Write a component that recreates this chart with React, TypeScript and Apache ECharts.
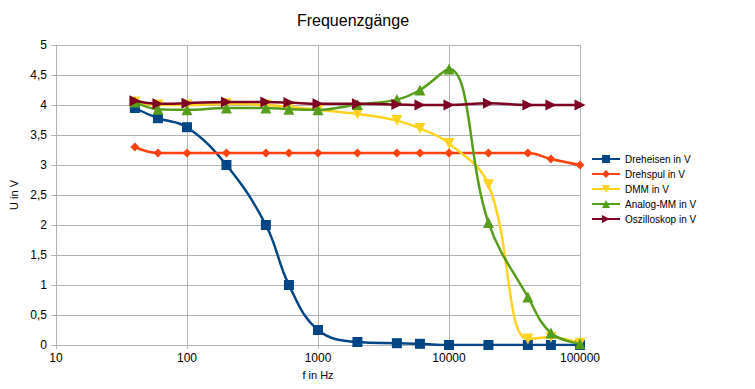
import React, { useEffect, useRef } from "react";
import * as echarts from "echarts";

const freqs = [40, 60, 100, 200, 400, 600, 1000, 2000, 4000, 6000, 10000, 20000, 40000, 60000, 100000];
const dreheisen = [3.95, 3.78, 3.63, 3.0, 2.0, 1.0, 0.25, 0.05, 0.03, 0.02, 0, 0, 0, 0, 0];
const drehspul = [3.3, 3.2, 3.2, 3.2, 3.2, 3.2, 3.2, 3.2, 3.2, 3.2, 3.2, 3.2, 3.2, 3.1, 3.0];
const dmm = [4.05, 4.0, 4.0, 4.02, 4.0, 3.97, 3.92, 3.85, 3.74, 3.61, 3.36, 2.67, 0.1, 0.13, 0.03];
const analogMM = [4.05, 3.93, 3.92, 3.95, 3.95, 3.93, 3.92, 4.01, 4.09, 4.25, 4.6, 2.04, 0.8, 0.2, 0.02];
const oszilloskop = [4.07, 4.02, 4.03, 4.05, 4.05, 4.04, 4.02, 4.02, 4.01, 4.0, 4.0, 4.03, 4.0, 4.0, 4.0];

const seriesNames = ["Dreheisen in V", "Drehspul in V", "DMM in V", "Analog-MM in V", "Oszilloskop in V"];
const seriesData = [dreheisen, drehspul, dmm, analogMM, oszilloskop];
const colors = ["#004586", "#ff420e", "#ffd320", "#579d1c", "#7e0021"];
const symbols = ["rect", "diamond", "triangle", "triangle", "triangle"];
const symbolRotate = [0, 0, 180, 0, -90];
const symbolSizes = [10, 9, 11, 11, 11];
const xTicks = [10, 100, 1000, 10000, 100000];

export default function App() {
  const ref = useRef<HTMLDivElement>(null);
  useEffect(() => {
    if (!ref.current) return;
    document.body.style.margin = "0";
    const chart = echarts.init(ref.current, null, { renderer: "svg" });
    const font = "Liberation Sans, Arial, sans-serif";
    chart.setOption({
      animation: false,
      backgroundColor: "#ffffff",
      textStyle: { fontFamily: font },
      title: {
        text: "Frequenzgänge",
        left: 348,
        top: 7,
        textAlign: "center",
        textStyle: { fontSize: 16, fontWeight: "normal", color: "#000", fontFamily: font },
      },
      legend: {
        orient: "vertical",
        left: 586,
        top: 149,
        itemGap: 5,
        itemWidth: 28,
        itemHeight: 10,
        textStyle: { fontSize: 10, color: "#000", fontFamily: font },
        data: seriesNames,
      },
      grid: { left: 52, top: 45, width: 528, height: 300, containLabel: false },
      xAxis: {
        type: "log",
        logBase: 10,
        min: xTicks[0],
        max: xTicks[xTicks.length - 1],
        name: "f in Hz",
        nameLocation: "middle",
        nameGap: 24,
        nameTextStyle: { fontSize: 11, color: "#000", fontFamily: font },
        axisLine: { show: true, lineStyle: { color: "#b3b3b3", width: 1 } },
        axisTick: { show: true, length: 4, lineStyle: { color: "#b3b3b3" } },
        axisLabel: { fontSize: 12, color: "#000", margin: 7, fontFamily: font, formatter: (v: number) => String(Math.round(v)) },
        splitLine: { show: true, lineStyle: { color: "#b3b3b3", width: 1 } },
        minorTick: { show: false },
      },
      yAxis: {
        type: "value",
        min: 0,
        max: 5,
        interval: 0.5,
        name: "U in V",
        nameLocation: "middle",
        nameGap: 37,
        nameTextStyle: { fontSize: 11, color: "#000", fontFamily: font },
        axisLine: { show: true, lineStyle: { color: "#b3b3b3", width: 1 } },
        axisTick: { show: true, length: 5, lineStyle: { color: "#b3b3b3" } },
        axisLabel: {
          fontSize: 12,
          color: "#000",
          margin: 9,
          fontFamily: font,
          formatter: (v: number) => String(v).replace(".", ","),
        },
        splitLine: { show: true, lineStyle: { color: "#b3b3b3", width: 1 } },
      },
      series: seriesNames.map((name, i) => ({
        name,
        type: "line",
        smooth: 0.4,
        data: freqs.map((f, j) => [f, seriesData[i][j]]),
        symbol: symbols[i],
        symbolSize: symbolSizes[i],
        symbolRotate: symbolRotate[i],
        showAllSymbol: true,
        lineStyle: { color: colors[i], width: 2.5 },
        itemStyle: { color: colors[i] },
        z: 2 + i,
      })),
    });
    return () => chart.dispose();
  }, []);
  return <div ref={ref} style={{ width: 755, height: 389 }} />;
}
